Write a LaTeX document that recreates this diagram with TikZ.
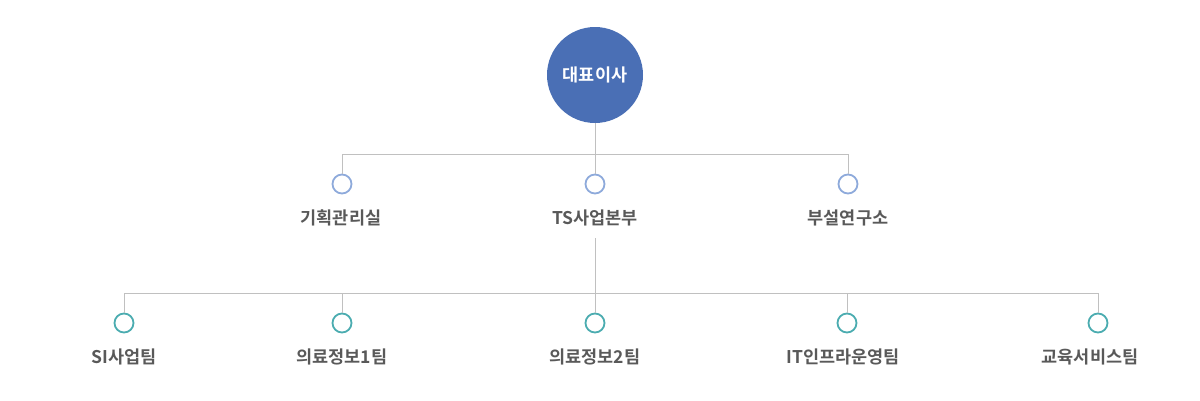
\documentclass[tikz,border=0pt]{standalone}
\usepackage{fontspec}
\newfontfamily\kr{Noto Sans CJK KR}[BoldFont={Noto Sans CJK KR Bold}]
\definecolor{ceo}{RGB}{74,111,181}
\definecolor{bluering}{RGB}{142,170,219}
\definecolor{tealring}{RGB}{75,172,176}
\definecolor{linegray}{RGB}{192,192,192}
\definecolor{txt}{RGB}{89,89,89}
\begin{document}
\begin{tikzpicture}[x=1pt,y=-1pt,
  ceonode/.style={circle,fill=ceo,minimum size=96pt,inner sep=0pt,text=white,font=\kr\bfseries\fontsize{17.5}{18}\selectfont},
  bdot/.style={circle,draw=bluering,line width=1.8pt,minimum size=19pt,inner sep=0pt,fill=white},
  tdot/.style={circle,draw=tealring,line width=1.8pt,minimum size=19pt,inner sep=0pt,fill=white},
  lbl/.style={text=txt,font=\kr\bfseries\fontsize{17.5}{18}\selectfont,inner sep=0pt},
  conn/.style={draw=linegray,line width=0.8pt}]
\useasboundingbox (0,0) rectangle (1200,400);
\node[ceonode] (ceo) at (595,75) {대표이사};
% level 1
\coordinate (j1) at (595,154);
\coordinate (j1l) at (342,154);
\coordinate (j1r) at (848,154);
\node[bdot] (d1) at (342,184) {};
\node[bdot] (d2) at (595,184) {};
\node[bdot] (d3) at (848,184) {};
\node[lbl] (l1) at (341,218) {기획관리실};
\node[lbl] (l2) at (595,218) {TS사업본부};
\node[lbl] (l3) at (848,218) {부설연구소};
\draw[conn] (ceo.south) -- (j1);
\draw[conn] (j1l) -- (j1r);
\draw[conn] (j1l) -- (d1.north);
\draw[conn] (j1) -- (d2.north);
\draw[conn] (j1r) -- (d3.north);
% level 2
\coordinate (s2) at (595,238);
\coordinate (j2) at (595,293);
\coordinate (j2a) at (124,293);
\coordinate (j2b) at (342,293);
\coordinate (j2d) at (847,293);
\coordinate (j2e) at (1098,293);
\node[tdot] (t1) at (124,323) {};
\node[tdot] (t2) at (342,323) {};
\node[tdot] (t3) at (595,323) {};
\node[tdot] (t4) at (847,323) {};
\node[tdot] (t5) at (1098,323) {};
\node[lbl] (m1) at (124,357) {SI사업팀};
\node[lbl] (m2) at (342,357) {의료정보1팀};
\node[lbl] (m3) at (595,357) {의료정보2팀};
\node[lbl] (m4) at (843,357) {IT인프라운영팀};
\node[lbl] (m5) at (1090,357) {교육서비스팀};
\draw[conn] (s2) -- (j2);
\draw[conn] (j2a) -- (j2e);
\draw[conn] (j2a) -- (t1.north);
\draw[conn] (j2b) -- (t2.north);
\draw[conn] (j2) -- (t3.north);
\draw[conn] (j2d) -- (t4.north);
\draw[conn] (j2e) -- (t5.north);
\end{tikzpicture}
\end{document}
